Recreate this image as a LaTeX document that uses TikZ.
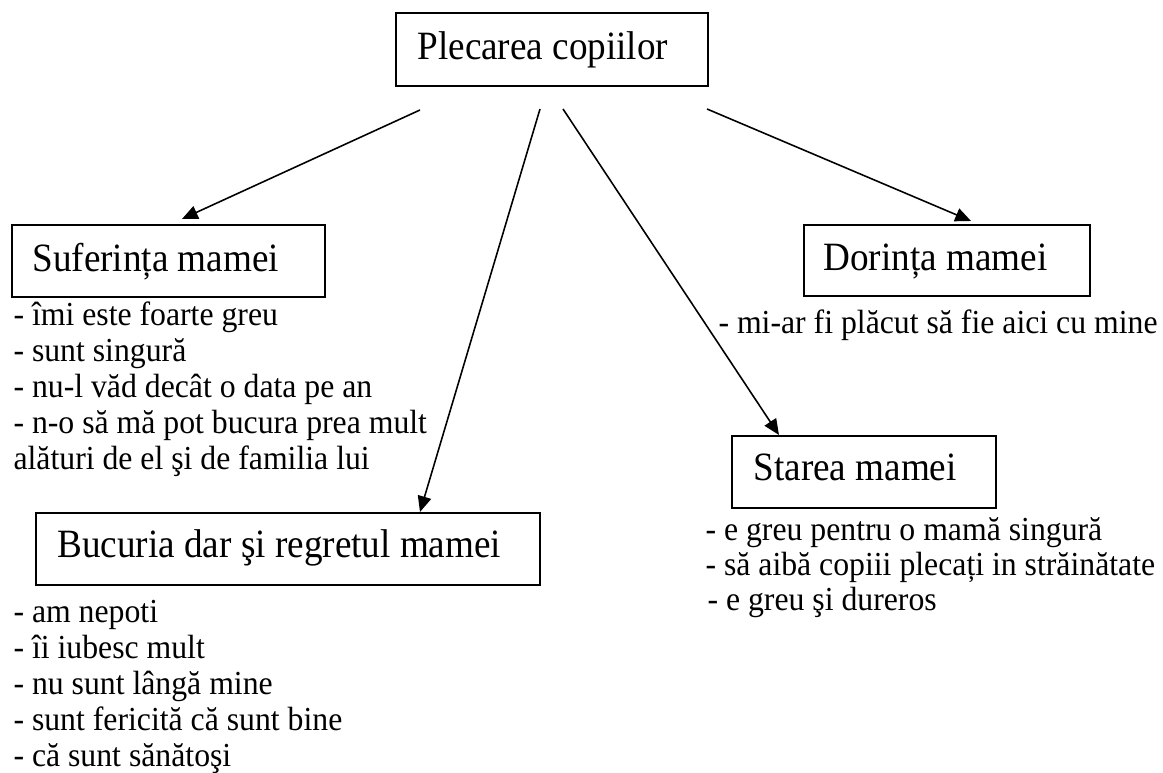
\documentclass[tikz,border=0pt]{standalone}
\usepackage{fontspec}
\setmainfont{Liberation Serif}
\newfontfamily\titlefont{Liberation Serif}[FakeStretch=0.925]
\newfontfamily\bodyfont{Liberation Serif}[FakeStretch=0.945]
\usetikzlibrary{arrows.meta}
\def\pxu{0.380952pt}
\begin{document}
\begin{tikzpicture}[x=0.380952pt,y=-0.380952pt,
  box/.style={draw,line width=0.75pt,inner sep=0pt,outer sep=0pt,anchor=north west},
  title/.style={anchor=base west,inner sep=0pt,font=\titlefont\fontsize{15.3}{17}\selectfont},
  body/.style={anchor=base west,inner sep=0pt,font=\bodyfont\fontsize{12.8}{14}\selectfont},
  arr/.style={-{Triangle[length=6pt,width=5.2pt]},line width=0.6pt}]
\useasboundingbox (0,0) rectangle (1163,773);

% boxes
\node[box,minimum width=312*\pxu,minimum height=73*\pxu] (plec) at (396,13) {};
\node[box,minimum width=313*\pxu,minimum height=72*\pxu] (suf) at (12,225) {};
\node[box,minimum width=286*\pxu,minimum height=71*\pxu] (dor) at (804,225) {};
\node[box,minimum width=504*\pxu,minimum height=72*\pxu] (bucu) at (36,513) {};
\node[box,minimum width=264*\pxu,minimum height=72*\pxu] (star) at (732,436) {};

% titles
\node[title] (plecT) at (417,60) {Plecarea copiilor};
\node[title] (sufT) at (32,272) {Suferința mamei};
\node[title] (dorT) at (823,271) {Dorința mamei};
\node[title] (bucuT) at (57,558) {Bucuria dar şi regretul mamei};
\node[title] (starT) at (753,481) {Starea mamei};

% lists
\foreach [count=\k from 0] \t in {- îmi este foarte greu, - sunt singură, - nu-l văd decât o data pe an, - n-o să mă pot bucura prea mult, alături de el şi de familia lui}
  \node[body] (sufL\k) at (13,326+36*\k) {\t};
\node[body] (dorL0) at (718,334) {- mi-ar fi plăcut să fie aici cu mine};
\foreach [count=\k from 0] \t in {- am nepoti, - îi iubesc mult, - nu sunt lângă mine, - sunt fericită că sunt bine, - că sunt sănătoşi}
  \node[body] (bucuL\k) at (13,623+36*\k) {\t};
\node[body] (starL0) at (705,541) {- e greu pentru o mamă singură};
\node[body] (starL1) at (705,576) {- să aibă copiii plecați in străinătate};
\node[body] (starL2) at (707,611) {- e greu şi dureros};

% arrows
\coordinate (s1) at (420,110);
\coordinate (s2) at (540,109);
\coordinate (s3) at (563,109);
\coordinate (s4) at (707,109);
\coordinate (e1) at (182,219);
\coordinate (e2) at (420,512);
\coordinate (e3) at (779,435);
\coordinate (e4) at (971,221);
\draw[arr] (s1) -- (e1);
\draw[arr] (s2) -- (e2);
\draw[arr] (s3) -- (e3);
\draw[arr] (s4) -- (e4);
\end{tikzpicture}
\end{document}
